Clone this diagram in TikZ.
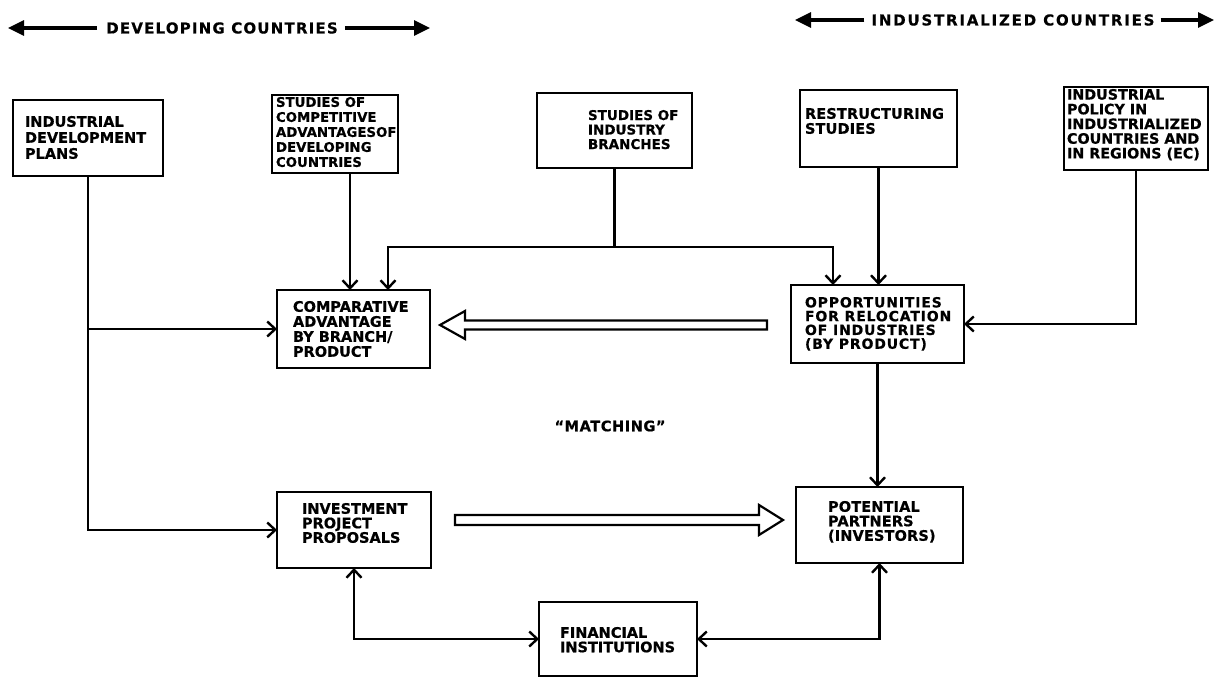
\documentclass[tikz,border=0pt]{standalone}
\usepackage{fontspec}
\newfontfamily\labfont{DejaVu Sans}[BoldFont={DejaVu Sans Bold}, BoldFeatures={FakeBold=0.6}]
\usetikzlibrary{arrows.meta}
\newcommand\lf[3]{\labfont\bfseries\fontsize{#1}{#2}\selectfont\addfontfeatures{LetterSpace=#3}}
\tikzset{
  bx/.style={draw=black, line width=2.6pt, inner sep=0pt, outer sep=0pt, anchor=north west},
  lab/.style={inner sep=0pt, outer sep=0pt, anchor=north west, align=left},
  plain/.style={line width=2.4pt},
  conn/.style={line width=2.4pt, -{Straight Barb[length=8pt,width=15pt]}},
  conn2/.style={line width=2.4pt, {Straight Barb[length=8pt,width=15pt]}-{Straight Barb[length=8pt,width=15pt]}},
  harrow/.style={line width=3.2pt, -{Triangle[length=16pt,width=15pt]}},
  hollow/.style={draw=black, fill=white, line width=2.2pt, line join=miter},
}
\begin{document}
\begin{tikzpicture}[x=1pt,y=-1pt]
\useasboundingbox (0,0) rectangle (1220,679);
% headers
\node[inner sep=0pt, font=\lf{15}{17}{8}] (hdl) at (222,28) {DEVELOPING COUNTRIES};
\coordinate (hdlL) at (8,28);
\coordinate (hdlR) at (430,28);
\draw[harrow] ([xshift=-9pt]hdl.west) -- (hdlL);
\draw[harrow] ([xshift=7pt]hdl.east) -- (hdlR);
\node[inner sep=0pt, font=\lf{15}{17}{12}] (hdr) at (1013,20) {INDUSTRIALIZED COUNTRIES};
\coordinate (hdrL) at (795,20);
\coordinate (hdrR) at (1214,20);
\draw[harrow] ([xshift=-7pt]hdr.west) -- (hdrL);
\draw[harrow] ([xshift=6pt]hdr.east) -- (hdrR);
% boxes
\node[bx, minimum width=150pt, minimum height=76pt] (idp) at (13,100) {};
\node[lab, font=\lf{14.5}{16}{0}] (idpt) at (25,116) {INDUSTRIAL\\DEVELOPMENT\\PLANS};
\node[bx, minimum width=126pt, minimum height=78pt] (sca) at (272,95) {};
\node[lab, font=\lf{13.3}{15}{0}] (scat) at (276,97) {STUDIES OF\\COMPETITIVE\\ADVANTAGESOF\\DEVELOPING\\COUNTRIES};
\node[bx, minimum width=155pt, minimum height=75pt] (sib) at (537,93) {};
\node[lab, font=\lf{13.5}{14.5}{0}] (sibt) at (588,110) {STUDIES OF\\INDUSTRY\\BRANCHES};
\node[bx, minimum width=157pt, minimum height=77pt] (rs) at (800,90) {};
\node[lab, font=\lf{14.5}{15}{1}] (rst) at (805,108) {RESTRUCTURING\\STUDIES};
\node[bx, minimum width=144pt, minimum height=83pt] (ip) at (1064,87) {};
\node[lab, font=\lf{14.3}{14.7}{0}] (ipt) at (1067,89) {INDUSTRIAL\\POLICY IN\\INDUSTRIALIZED\\COUNTRIES AND\\IN REGIONS (EC)};
\node[bx, minimum width=153pt, minimum height=78pt] (ca) at (277,290) {};
\node[lab, font=\lf{14.5}{15}{0}] (cat) at (293,301) {COMPARATIVE\\ADVANTAGE\\BY BRANCH/\\PRODUCT};
\node[bx, minimum width=173pt, minimum height=78pt] (opp) at (791,285) {};
\node[lab, font=\lf{14}{13.8}{6}] (oppt) at (805,297) {OPPORTUNITIES\\FOR RELOCATION\\OF INDUSTRIES\\(BY PRODUCT)};
\node[bx, minimum width=154pt, minimum height=76pt] (inv) at (277,492) {};
\node[lab, font=\lf{14.5}{14.5}{0}] (invt) at (302,503) {INVESTMENT\\PROJECT\\PROPOSALS};
\node[bx, minimum width=167pt, minimum height=76pt] (pp) at (796,487) {};
\node[lab, font=\lf{14.5}{14.5}{1}] (ppt) at (828,501) {POTENTIAL\\PARTNERS\\(INVESTORS)};
\node[bx, minimum width=158pt, minimum height=74pt] (fi) at (539,602) {};
\node[lab, font=\lf{14.5}{14.5}{0}] (fit) at (560,627) {FINANCIAL\\INSTITUTIONS};
% matching
\node[inner sep=0pt, font=\lf{14.5}{16}{4}] (match) at (610,426) {“MATCHING”};
% connectors
\draw[conn] (idp.south) |- (inv.west);
\draw[conn] (idp.south |- ca.west) -- (ca.west);
\draw[conn] ([xshift=15pt]sca.south) -- ([xshift=15pt]sca.south |- ca.north);
\coordinate (sjL) at (388,247);
\coordinate (sjR) at (833,247);
\draw[plain] (sib.south) -- (sib.south |- sjL);
\draw[conn] (sib.south |- sjL) -| (sjL |- ca.north);
\draw[conn] (sib.south |- sjR) -| (sjR |- opp.north);
\draw[conn] (rs.south) -- (rs.south |- opp.north);
\draw[conn] (ip.south) |- (opp.east);
\draw[conn] (opp.south) -- (opp.south |- pp.north);
\draw[conn2] (inv.south) |- (fi.west);
\draw[conn2] (pp.south) |- (fi.east);
% hollow arrows
\draw[hollow] (440,325) -- (465,311) -- (465,320.5) -- (767,320.5) -- (767,329.5) -- (465,329.5) -- (465,339) -- cycle;
\draw[hollow] (783,520) -- (759,505) -- (759,515) -- (455,515) -- (455,525) -- (759,525) -- (759,535) -- cycle;
\end{tikzpicture}
\end{document}
